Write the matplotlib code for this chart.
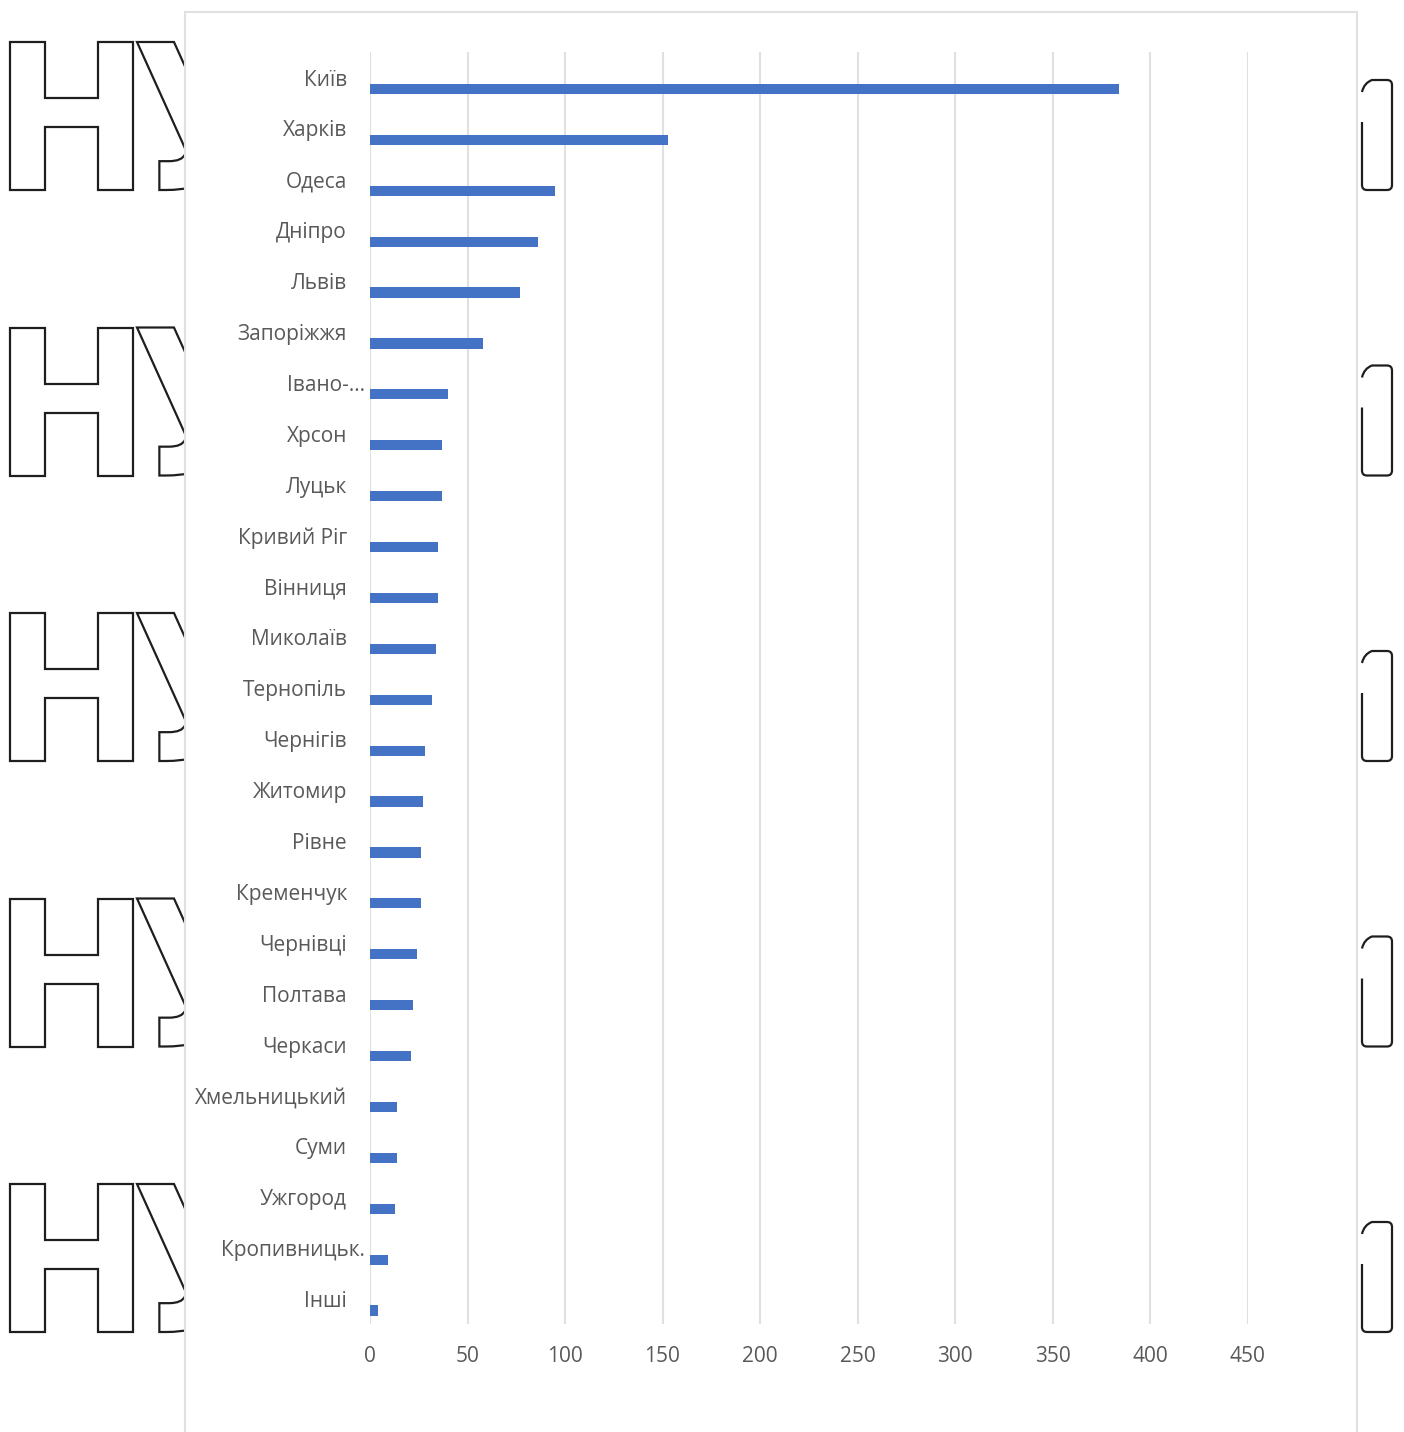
import numpy as np
import matplotlib
matplotlib.use("Agg")
import matplotlib.pyplot as plt
from matplotlib.patches import Rectangle, PathPatch
from matplotlib.path import Path
from matplotlib.textpath import TextPath
from matplotlib.font_manager import FontProperties
from matplotlib.transforms import Affine2D, ScaledTranslation

plt.rcParams['font.family'] = ['Open Sans', 'DejaVu Sans']

# cities, top to bottom
cities = ['Київ', 'Харків', 'Одеса', 'Дніпро', 'Львів', 'Запоріжжя', 'Івано-…',
          'Хрсон', 'Луцьк', 'Кривий Ріг', 'Вінниця', 'Миколаїв', 'Тернопіль',
          'Чернігів', 'Житомир', 'Рівне', 'Кременчук', 'Чернівці', 'Полтава',
          'Черкаси', 'Хмельницький', 'Суми', 'Ужгород', 'Кропивницьк.', 'Інші']
counts = [384, 153, 95, 86, 77, 58, 40, 37, 37, 35, 35, 34, 32,
          28, 27, 26, 26, 24, 22, 21, 14, 14, 13, 9, 4]
x_ticks = [0, 50, 100, 150, 200, 250, 300, 350, 400, 450]

W, H = 1404, 1432
fig = plt.figure(figsize=(W / 100, H / 100), dpi=100)
fig.patch.set_facecolor('white')

# background layer in pixel coordinates (y down)
bg = fig.add_axes([0, 0, 1, 1])
bg.set_xlim(0, W)
bg.set_ylim(H, 0)
bg.axis('off')

bold = FontProperties(family='DejaVu Sans', weight='bold')
h_path = TextPath((0, 0), 'Н', size=100, prop=bold)
u_path = TextPath((0, 0), 'У', size=100, prop=bold)
hb = h_path.get_extents()
ub = u_path.get_extents()
sx = 123 / hb.width
sy = 148 / hb.height


def outline(path, ext, left, bottom):
    tr = Affine2D().translate(-ext.x0, -hb.y0).scale(sx, -sy).translate(left, bottom)
    bg.add_patch(PathPatch(tr.transform_path(path), fc='white', ec='#1e1e1e',
                           lw=1.6, zorder=1))


def tab(top, bottom, left=1362, right=1392):
    verts = [(left, top + 42), (left, bottom - 5), (left, bottom), (left + 5, bottom),
             (right - 5, bottom), (right, bottom), (right, bottom - 5),
             (right, top + 5), (right, top), (right - 5, top),
             (left + 10, top), (left + 2, top + 3), (left, top + 12)]
    codes = [Path.MOVETO, Path.LINETO, Path.CURVE3, Path.CURVE3,
             Path.LINETO, Path.CURVE3, Path.CURVE3,
             Path.LINETO, Path.CURVE3, Path.CURVE3,
             Path.LINETO, Path.CURVE3, Path.CURVE3]
    bg.add_patch(PathPatch(Path(verts, codes), fc='none', ec='#1e1e1e', lw=1.6, zorder=1))


for k in range(5):
    top = 42 + k * 285.5
    outline(h_path, hb, 10, top + 148)
    outline(u_path, ub, 137, top + 148)
    tab(top + 38, top + 148)

# white chart area
bg.add_patch(Rectangle((185, 12), 1357 - 185, H, fc='white', ec='#E0E0E0',
                       lw=1.5, zorder=3))

# plot area
x_left, x_right = 370, 1247.5
band = 50.9
top_px = 77 - band / 2
bot_px = top_px + band * len(cities)
ax = fig.add_axes([x_left / W, 1 - bot_px / H, (x_right - x_left) / W,
                   (bot_px - top_px) / H])
ax.set_facecolor('none')
ax.set_zorder(5)

y = np.arange(len(cities))
ax.barh(y + 0.235, counts, height=0.2, color='#4472C4', zorder=3)
ax.set_xlim(0, 450)
ax.set_ylim(len(cities) - 0.5, -0.5)

ax.set_xticks(x_ticks)
ax.set_xticklabels([str(t) for t in x_ticks])
ax.xaxis.grid(True, color='#E0E0E0', lw=1.5)
ax.set_axisbelow(True)
ax.tick_params(axis='x', length=0, pad=16, labelsize=15, labelcolor='#595959')
ax.set_yticks([])
for s in ax.spines.values():
    s.set_visible(False)

label_tr = ax.get_yaxis_transform()
for i, name in enumerate(cities):
    shift = 18 if name.endswith(('…', '.')) else 0
    off = ScaledTranslation((-23 + shift) / 100, -3 / 100, fig.dpi_scale_trans)
    ax.text(0, i, name, transform=label_tr + off, ha='right', va='center',
            fontsize=15, color='#595959')

fig.savefig('out.png', dpi=100, facecolor='white')
